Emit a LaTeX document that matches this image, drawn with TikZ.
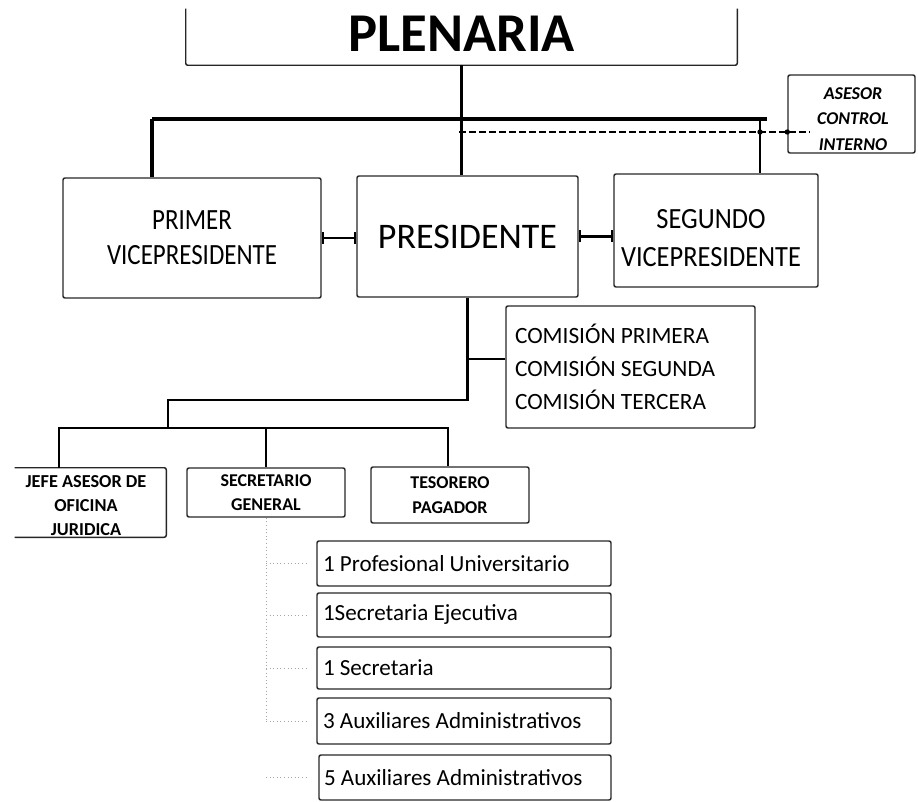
\documentclass[tikz,border=0pt]{standalone}
\usepackage{fontspec}
\setmainfont{Carlito}
\usetikzlibrary{arrows.meta}
\begin{document}
\begin{tikzpicture}[x=0.75pt,y=-0.75pt,
  box/.style={draw=black!85, line width=1.1pt, rounded corners=1.5pt, inner sep=0pt, align=center},
  boxline/.style={draw=black!85, line width=1.1pt, rounded corners=1.5pt},
  thickln/.style={line width=2.3pt},
  midln/.style={line width=1.9pt},
  tickln/.style={line width=1.9pt, {Bar[width=9pt,line width=1.6pt]}-{Bar[width=9pt,line width=1.6pt]}},
  dashln/.style={line width=1.5pt, dash pattern=on 5pt off 2.5pt},
  faint/.style={draw=black!35, line width=0.7pt, dotted},
  subbox/.style={box, text width=211.5pt, align=flush left, font=\fontsize{17.3}{19}\selectfont},
  smallbold/.style={font=\bfseries\fontsize{13.5}{18.5}\selectfont},
]
\useasboundingbox (0,0) rectangle (918,802);

% top box (top edge cut off by the page)
\node[inner sep=0pt, minimum width=413.25pt, minimum height=42pt, text depth=4.5pt,
      font=\bfseries\fontsize{41}{41}\selectfont] (plen) at (461.5,37) {PLENARIA};
\draw[boxline] (plen.north west) -- (plen.south west) -- (plen.south east) -- (plen.north east);

% second level
\node[box, minimum width=193.5pt, minimum height=90pt, font=\fontsize{22}{26}\selectfont] (primer) at (192,238)
  {\scalebox{0.85}[1]{PRIMER}\\\scalebox{0.85}[1]{VICEPRESIDENTE}};
\node[box, minimum width=165.75pt, minimum height=90.75pt, font=\fontsize{27}{30}\selectfont] (pres) at (467.5,236.5) {PRESIDENTE};
\node[box, minimum width=153pt, minimum height=84.75pt] (segundo) at (716,230.5) {};
\node[inner sep=0pt, align=center, font=\fontsize{22}{29}\selectfont] (segtxt) at (711,238)
  {\scalebox{0.9}[1]{SEGUNDO}\\\scalebox{0.9}[1]{VICEPRESIDENTE}};

% asesor
\node[box, minimum width=95.25pt, minimum height=58.5pt] (asesor) at (851.5,114) {};
\node[inner sep=0pt, align=center, font=\bfseries\itshape\fontsize{13.5}{19}\selectfont] (asesortxt) at (853,119) {ASESOR\\CONTROL\\INTERNO};

% comisiones
\node[box, minimum width=186.75pt, minimum height=91.5pt, text width=173.25pt, align=flush left, font=\fontsize{17.5}{24.5}\selectfont] (com) at (630.5,367)
  {COMISIÓN PRIMERA\\COMISIÓN SEGUNDA\\COMISIÓN TERCERA};

% third level
\node[inner sep=0pt, minimum width=113.25pt, minimum height=51.75pt] (jefe) at (90.5,502.5) {};
\draw[boxline] (jefe.north west) -- (jefe.north east) -- (jefe.south east) -- (jefe.south west);
\node[inner sep=0pt, align=center, font=\bfseries\fontsize{13.7}{18}\selectfont] (jefetxt) at (86,506)
  {JEFE ASESOR DE\\OFICINA\\JURIDICA};
\node[box, smallbold, minimum width=118.5pt, minimum height=36.75pt] (secre) at (266,492.5) {SECRETARIO\\GENERAL};
\node[box, smallbold, minimum width=118.5pt, minimum height=42pt] (teso) at (450,495) {TESORERO\\PAGADOR};

% staff boxes
\node[subbox, minimum width=220.5pt, minimum height=33.75pt] (s1) at (464,563.5) {1 Profesional Universitario};
\node[subbox, minimum width=220.5pt, minimum height=33pt] (s2) at (464,615) {1Secretaria Ejecutiva};
\node[subbox, minimum width=220.5pt, minimum height=31.5pt] (s3) at (464,668) {1 Secretaria};
\node[subbox, minimum width=220.5pt, minimum height=34.5pt] (s4) at (464,721) {3 Auxiliares Administrativos};
\node[subbox, minimum width=219pt, minimum height=33.75pt] (s5) at (465,777.5) {5 Auxiliares Administrativos};

% connectors top
\coordinate (hL) at (152,119);
\coordinate (hR) at (767,119);
\coordinate (dR) at (760,119);
\coordinate (dA) at (459,132);
\coordinate (dB) at (810,132);
\draw[thickln] (plen.south) -- (plen.south |- pres.north);
\draw[thickln] (hL) -- (hR);
\draw[thickln] (hL) -- (hL |- primer.north);
\draw[midln] (dR) -- (dR |- segundo.north);
\draw[dashln] (dA) -- (dB);
\fill (dR |- dA) circle (2pt);
\fill (asesor.west |- dA) circle (2pt);

\draw[tickln] (primer.east) -- (primer.east -| pres.west);
\draw[tickln] (pres.east) -- (pres.east -| segundo.west);

% lower tree
\coordinate (b1) at (168,400);
\coordinate (b2) at (168,428);
\coordinate (bL) at (59,428);
\coordinate (bR) at (448,428);
\coordinate (cy) at (0,359);
\draw[midln] (pres.south) -- (pres.south |- b1) -- (b1) -- (b2);
\draw[midln] (pres.south |- cy) -- (com.west |- cy);
\draw[midln] (bL |- jefe.north) -- (bL) -- (bR) -- (bR |- teso.north);
\draw[midln] (secre.north |- bL) -- (secre.north);

% faint staff links
\draw[faint] (secre.south) -- (secre.south |- s4.west);
\draw[faint] (secre.south |- s1.west) -- ++(41,0);
\draw[faint] (secre.south |- s2.west) -- ++(41,0);
\draw[faint] (secre.south |- s3.west) -- ++(41,0);
\draw[faint] (secre.south |- s4.west) -- ++(41,0);
\draw[faint] (secre.south |- s5.west) -- ++(41,0);
\end{tikzpicture}
\end{document}
